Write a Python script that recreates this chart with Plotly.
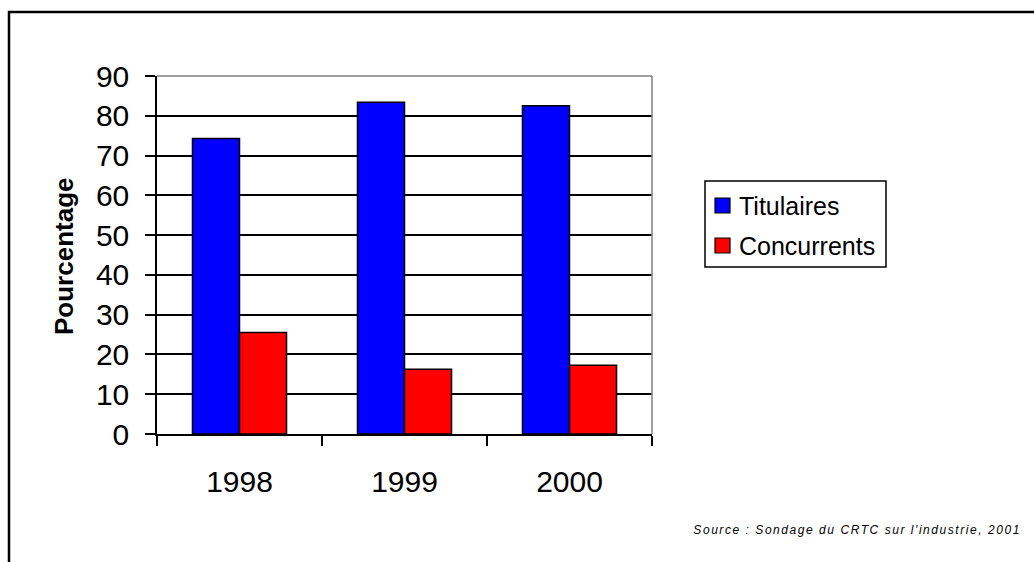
import plotly.graph_objects as go

# Survey data: share (%) by year
years = ["1998", "1999", "2000"]
series_names = ["Titulaires", "Concurrents"]
titulaires = [74.3, 83.4, 82.5]
concurrents = [25.5, 16.3, 17.3]
series_colors = ["#0000FF", "#FF0000"]
y_ticks = [0, 10, 20, 30, 40, 50, 60, 70, 80, 90]

FONT = "Liberation Sans, Arial, sans-serif"

# plot-area geometry in pixels (page is 1034 x 562)
W, H = 1034, 562
L, R, T, B = 157, 652, 76, 434


def px_x(p):
    return (p - L) / (R - L)


def px_y(p):
    return (B - p) / (B - T)


fig = go.Figure()
for name, vals, col in zip(series_names, [titulaires, concurrents], series_colors):
    fig.add_trace(go.Bar(
        x=years, y=vals, name=name,
        marker=dict(color=col, line=dict(color="black", width=1.5)),
        showlegend=False,
    ))

shapes = [
    # gray plot-area frame on the top and right sides
    dict(type="line", xref="paper", yref="paper", x0=0, x1=1, y0=1, y1=1,
         line=dict(color="#808080", width=1.5), layer="above"),
    dict(type="line", xref="paper", yref="paper", x0=1, x1=1, y0=0, y1=1,
         line=dict(color="#808080", width=1.5), layer="above"),
    # outer frame of the figure
    dict(type="rect", xref="paper", yref="paper",
         x0=px_x(9), x1=px_x(1045), y0=px_y(12), y1=px_y(575),
         line=dict(color="black", width=2.5), layer="below"),
    # legend box
    dict(type="rect", xref="paper", yref="paper",
         x0=px_x(705), x1=px_x(886), y0=px_y(181), y1=px_y(267),
         line=dict(color="black", width=1.5), fillcolor="white", layer="above"),
]

annotations = [
    dict(text="Source : Sondage du CRTC sur l'industrie, 2001",
         xref="paper", yref="paper", x=px_x(856.5), y=px_y(530),
         xanchor="center", yanchor="middle", showarrow=False,
         font=dict(size=12, family=FONT, style="italic")),
    dict(text="<b>Pourcentage</b>", textangle=-90,
         xref="paper", yref="paper", x=px_x(64), y=px_y(256),
         xanchor="center", yanchor="middle", showarrow=False,
         font=dict(size=26, family=FONT)),
]

# legend entries: colour swatch + series name
for i, (name, col) in enumerate(zip(series_names, series_colors)):
    cy = 205.5 + i * 40
    shapes.append(dict(
        type="rect", xref="paper", yref="paper",
        x0=px_x(715), x1=px_x(730), y0=px_y(cy - 7.5), y1=px_y(cy + 7.5),
        line=dict(color="black", width=1.2), fillcolor=col, layer="above"))
    annotations.append(dict(
        text=name, xref="paper", yref="paper", x=px_x(737), y=px_y(cy),
        xanchor="left", yanchor="middle", showarrow=False,
        font=dict(size=25, family=FONT)))

fig.update_layout(
    width=W, height=H,
    margin=dict(l=L, r=W - R, t=T, b=H - B, pad=0),
    paper_bgcolor="white", plot_bgcolor="white",
    barmode="group", bargap=0.43, bargroupgap=0,
    font=dict(family=FONT, color="black"),
    showlegend=False,
    xaxis=dict(
        type="category", tickson="boundaries",
        showline=True, linecolor="black", linewidth=1.5,
        ticks="outside", ticklen=10, tickwidth=1.5, tickcolor="black",
        tickfont=dict(size=30, family=FONT), ticklabelstandoff=20,
        showgrid=False, zeroline=False,
    ),
    yaxis=dict(
        range=[0, 90], tickvals=y_ticks,
        showline=True, linecolor="black", linewidth=1.5,
        ticks="outside", ticklen=10, tickwidth=1.5, tickcolor="black",
        tickfont=dict(size=30, family=FONT), ticklabelstandoff=10,
        showgrid=True, gridcolor="black", gridwidth=1.5,
        zeroline=False,
    ),
    shapes=shapes,
    annotations=annotations,
)

# widen the letter spacing of the source note
post = """
var gd = document.querySelector('.plotly-graph-div');
function spaceOut() {
  var t = gd.querySelector('.annotation[data-index="0"] text');
  if (t) { t.style.letterSpacing = '1.55px'; }
}
spaceOut();
gd.on('plotly_afterplot', spaceOut);
"""

fig.write_html("out.html", post_script=post)
